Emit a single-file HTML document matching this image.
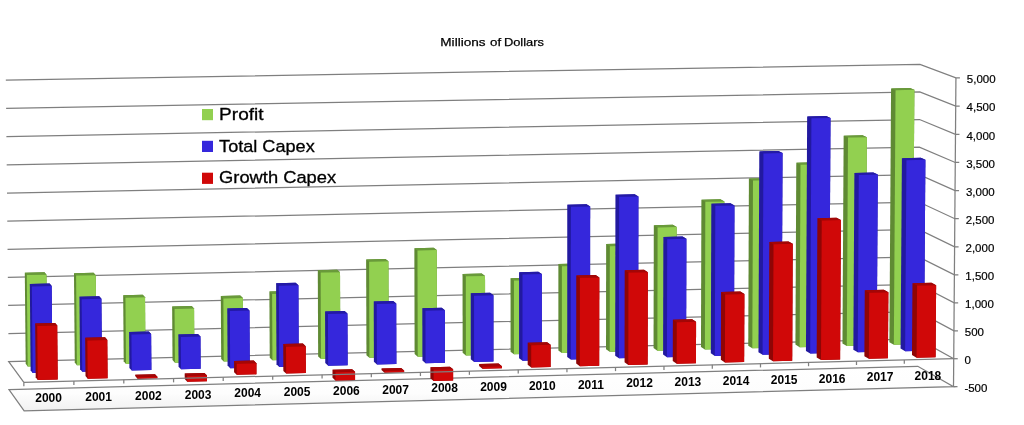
<!DOCTYPE html>
<html><head><meta charset="utf-8"><title>Millions of Dollars</title>
<style>
html,body{margin:0;padding:0;background:#fff;}
body{width:1024px;height:425px;overflow:hidden;font-family:"Liberation Sans",sans-serif;}
svg{display:block}
text{font-family:"Liberation Sans",sans-serif;fill:#000}
.ax{font-size:11.5px;stroke:#000;stroke-width:0.2px}
.yr{font-size:12px;font-weight:bold}
.ti{font-size:11.8px;stroke:#000;stroke-width:0.25px}
.lg{font-size:16.8px;stroke:#000;stroke-width:0.3px}
</style></head><body>
<svg width="1024" height="425" viewBox="0 0 1024 425">
<defs><linearGradient id="fl" x1="0" y1="0" x2="0" y2="1"><stop offset="0" stop-color="#ffffff"/><stop offset="0.6" stop-color="#fdfdfd"/><stop offset="1" stop-color="#f1f1f1"/></linearGradient></defs>
<rect width="1024" height="425" fill="#fff"/>
<polyline points="8.41,333.53 918.19,311.64 953.95,330.79 957.95,330.79" fill="none" stroke="#7f7f7f" stroke-width="1.25"/>
<polyline points="8.12,305.49 918.39,284.28 954.17,302.81 958.17,302.81" fill="none" stroke="#7f7f7f" stroke-width="1.25"/>
<polyline points="7.83,277.43 918.58,256.90 954.38,274.80 958.38,274.80" fill="none" stroke="#7f7f7f" stroke-width="1.25"/>
<polyline points="7.55,249.33 918.78,229.48 954.60,246.76 958.60,246.76" fill="none" stroke="#7f7f7f" stroke-width="1.25"/>
<polyline points="7.26,221.21 918.97,202.04 954.82,218.70 958.82,218.70" fill="none" stroke="#7f7f7f" stroke-width="1.25"/>
<polyline points="6.97,193.05 919.17,174.57 955.04,190.60 959.04,190.60" fill="none" stroke="#7f7f7f" stroke-width="1.25"/>
<polyline points="6.69,164.86 919.37,147.07 955.26,162.47 959.26,162.47" fill="none" stroke="#7f7f7f" stroke-width="1.25"/>
<polyline points="6.40,136.64 919.56,119.54 955.48,134.32 959.48,134.32" fill="none" stroke="#7f7f7f" stroke-width="1.25"/>
<polyline points="6.11,108.40 919.76,91.99 955.71,106.13 959.71,106.13" fill="none" stroke="#7f7f7f" stroke-width="1.25"/>
<polyline points="5.82,80.12 919.96,64.40 955.93,77.91 959.93,77.91" fill="none" stroke="#7f7f7f" stroke-width="1.25"/>
<polygon points="8.98,389.51 917.80,366.27 953.51,386.65 24.14,410.98" fill="url(#fl)" stroke="#7f7f7f" stroke-width="1.25"/>
<polyline points="23.85,382.35 8.69,361.54 918.00,338.97 953.73,358.73" fill="none" stroke="#7f7f7f" stroke-width="1.25"/>
<line x1="955.93" y1="77.91" x2="953.51" y2="386.65" stroke="#7f7f7f" stroke-width="1.25"/>
<line x1="953.73" y1="358.73" x2="957.73" y2="358.73" stroke="#7f7f7f" stroke-width="1.25"/>
<line x1="953.51" y1="386.65" x2="957.51" y2="386.65" stroke="#7f7f7f" stroke-width="1.25"/>
<g>
<polygon points="27.68,366.40 25.70,363.75 24.80,272.73 44.45,272.29 46.49,274.67 47.35,365.91" fill="#5f8a33"/><polygon points="26.78,275.11 24.80,272.73 44.45,272.29 46.49,274.67" fill="#699a3a"/><polygon points="27.68,366.40 47.35,365.91 46.49,274.67 26.78,275.11" fill="#92d050"/>
<polygon points="76.89,365.17 74.77,362.53 73.97,273.20 93.57,272.76 95.75,275.14 96.51,364.68" fill="#5f8a33"/><polygon points="76.09,275.58 73.97,273.20 93.57,272.76 95.75,275.14" fill="#699a3a"/><polygon points="76.89,365.17 96.51,364.68 95.75,275.14 76.09,275.58" fill="#92d050"/>
<polygon points="125.97,363.95 123.70,361.31 123.18,295.23 142.71,294.78 145.04,297.22 145.54,363.46" fill="#5f8a33"/><polygon points="125.44,297.67 123.18,295.23 142.71,294.78 145.04,297.22" fill="#699a3a"/><polygon points="125.97,363.95 145.54,363.46 145.04,297.22 125.44,297.67" fill="#92d050"/>
<polygon points="174.92,362.72 172.51,360.10 172.13,306.49 191.62,306.03 194.08,308.50 194.44,362.24" fill="#5f8a33"/><polygon points="174.54,308.96 172.13,306.49 191.62,306.03 194.08,308.50" fill="#699a3a"/><polygon points="174.92,362.72 194.44,362.24 194.08,308.50 174.54,308.96" fill="#92d050"/>
<polygon points="223.74,361.51 221.19,358.88 220.80,296.00 240.24,295.55 242.85,297.98 243.21,361.02" fill="#5f8a33"/><polygon points="223.35,298.44 220.80,296.00 240.24,295.55 242.85,297.98" fill="#699a3a"/><polygon points="223.74,361.51 243.21,361.02 242.85,297.98 223.35,298.44" fill="#92d050"/>
<polygon points="272.43,360.29 269.74,357.68 269.39,291.46 288.78,291.02 291.53,293.43 291.85,359.81" fill="#5f8a33"/><polygon points="272.09,293.88 269.39,291.46 288.78,291.02 291.53,293.43" fill="#699a3a"/><polygon points="272.43,360.29 291.85,359.81 291.53,293.43 272.09,293.88" fill="#92d050"/>
<polygon points="320.99,359.08 318.16,356.47 317.79,270.24 337.13,269.80 340.02,272.16 340.36,358.59" fill="#5f8a33"/><polygon points="320.62,272.59 317.79,270.24 337.13,269.80 340.02,272.16" fill="#699a3a"/><polygon points="320.99,359.08 340.36,358.59 340.02,272.16 320.62,272.59" fill="#92d050"/>
<polygon points="369.42,357.87 366.45,355.27 366.13,259.44 385.42,259.01 388.45,261.33 388.74,357.39" fill="#5f8a33"/><polygon points="369.10,261.76 366.13,259.44 385.42,259.01 388.45,261.33" fill="#699a3a"/><polygon points="369.42,357.87 388.74,357.39 388.45,261.33 369.10,261.76" fill="#92d050"/>
<polygon points="417.73,356.66 414.62,354.07 414.36,248.22 433.60,247.79 436.78,250.07 436.99,356.18" fill="#5f8a33"/><polygon points="417.47,250.50 414.36,248.22 433.60,247.79 436.78,250.07" fill="#699a3a"/><polygon points="417.73,356.66 436.99,356.18 436.78,250.07 417.47,250.50" fill="#92d050"/>
<polygon points="465.91,355.46 462.66,352.87 462.53,273.99 481.72,273.55 485.03,275.91 485.12,354.98" fill="#5f8a33"/><polygon points="465.79,276.34 462.53,273.99 481.72,273.55 485.03,275.91" fill="#699a3a"/><polygon points="465.91,355.46 485.12,354.98 485.03,275.91 465.79,276.34" fill="#92d050"/>
<polygon points="513.96,354.26 510.57,351.68 510.52,278.23 529.66,277.79 533.10,280.16 533.12,353.78" fill="#5f8a33"/><polygon points="513.91,280.60 510.52,278.23 529.66,277.79 533.10,280.16" fill="#699a3a"/><polygon points="513.96,354.26 533.12,353.78 533.10,280.16 513.91,280.60" fill="#92d050"/>
<polygon points="561.88,353.06 558.36,350.49 558.38,263.98 577.47,263.55 581.05,265.87 580.99,352.59" fill="#5f8a33"/><polygon points="561.91,266.30 558.38,263.98 577.47,263.55 581.05,265.87" fill="#699a3a"/><polygon points="561.88,353.06 580.99,352.59 581.05,265.87 561.91,266.30" fill="#92d050"/>
<polygon points="609.68,351.87 606.02,349.30 606.14,243.94 625.19,243.52 628.91,245.78 628.74,351.39" fill="#5f8a33"/><polygon points="609.81,246.20 606.14,243.94 625.19,243.52 628.91,245.78" fill="#699a3a"/><polygon points="609.68,351.87 628.74,351.39 628.91,245.78 609.81,246.20" fill="#92d050"/>
<polygon points="657.35,350.68 653.55,348.12 653.81,225.22 672.81,224.81 676.67,227.01 676.36,350.21" fill="#5f8a33"/><polygon points="657.62,227.42 653.81,225.22 672.81,224.81 676.67,227.01" fill="#699a3a"/><polygon points="657.35,350.68 676.36,350.21 676.67,227.01 657.62,227.42" fill="#92d050"/>
<polygon points="704.90,349.49 700.97,346.94 701.41,199.71 720.37,199.31 724.37,201.43 723.86,349.02" fill="#5f8a33"/><polygon points="705.35,201.83 701.41,199.71 720.37,199.31 724.37,201.43" fill="#699a3a"/><polygon points="704.90,349.49 723.86,349.02 724.37,201.43 705.35,201.83" fill="#92d050"/>
<polygon points="752.32,348.31 748.25,345.76 748.91,178.45 767.83,178.07 771.96,180.13 771.23,347.84" fill="#5f8a33"/><polygon points="752.99,180.51 748.91,178.45 767.83,178.07 771.96,180.13" fill="#699a3a"/><polygon points="752.32,348.31 771.23,347.84 771.96,180.13 752.99,180.51" fill="#92d050"/>
<polygon points="799.62,347.13 795.42,344.59 796.29,162.66 815.17,162.29 819.44,164.30 818.48,346.66" fill="#5f8a33"/><polygon points="800.51,164.67 796.29,162.66 815.17,162.29 819.44,164.30" fill="#699a3a"/><polygon points="799.62,347.13 818.48,346.66 819.44,164.30 800.51,164.67" fill="#92d050"/>
<polygon points="846.79,345.95 842.46,343.42 843.65,135.68 862.48,135.32 866.89,137.24 865.61,345.48" fill="#5f8a33"/><polygon points="848.00,137.61 843.65,135.68 862.48,135.32 866.89,137.24" fill="#699a3a"/><polygon points="846.79,345.95 865.61,345.48 866.89,137.24 848.00,137.61" fill="#92d050"/>
<polygon points="893.85,344.78 889.38,342.25 891.06,88.42 909.86,88.09 914.40,89.87 912.61,344.31" fill="#5f8a33"/><polygon points="895.55,90.21 891.06,88.42 909.86,88.09 914.40,89.87" fill="#699a3a"/><polygon points="893.85,344.78 912.61,344.31 914.40,89.87 895.55,90.21" fill="#92d050"/>
</g>
<g>
<polygon points="32.67,373.10 30.66,370.41 29.82,283.99 49.62,283.54 51.68,285.97 52.50,372.60" fill="#2219a0"/><polygon points="31.83,286.42 29.82,283.99 49.62,283.54 51.68,285.97" fill="#241aa6"/><polygon points="32.67,373.10 52.50,372.60 51.68,285.97 31.83,286.42" fill="#3527dc"/>
<polygon points="82.25,371.85 80.10,369.17 79.45,296.74 99.19,296.28 101.41,298.75 102.02,371.35" fill="#2219a0"/><polygon points="81.61,299.21 79.45,296.74 99.19,296.28 101.41,298.75" fill="#241aa6"/><polygon points="82.25,371.85 102.02,371.35 101.41,298.75 81.61,299.21" fill="#3527dc"/>
<polygon points="131.69,370.61 129.39,367.93 129.11,331.99 148.78,331.51 151.14,334.08 151.41,370.11" fill="#2219a0"/><polygon points="131.41,334.56 129.11,331.99 148.78,331.51 151.14,334.08" fill="#241aa6"/><polygon points="131.69,370.61 151.41,370.11 151.14,334.08 131.41,334.56" fill="#3527dc"/>
<polygon points="181.00,369.37 178.56,366.70 178.33,334.47 197.95,333.99 200.46,336.56 200.67,368.87" fill="#2219a0"/><polygon points="180.78,337.04 178.33,334.47 197.95,333.99 200.46,336.56" fill="#241aa6"/><polygon points="181.00,369.37 200.67,368.87 200.46,336.56 180.78,337.04" fill="#3527dc"/>
<polygon points="230.18,368.13 227.59,365.47 227.25,308.49 246.83,308.03 249.48,310.52 249.80,367.64" fill="#2219a0"/><polygon points="229.84,310.98 227.25,308.49 246.83,308.03 249.48,310.52" fill="#241aa6"/><polygon points="230.18,368.13 249.80,367.64 249.48,310.52 229.84,310.98" fill="#3527dc"/>
<polygon points="279.23,366.90 276.50,364.24 276.09,283.23 295.62,282.79 298.41,285.20 298.79,366.41" fill="#2219a0"/><polygon points="278.82,285.65 276.09,283.23 295.62,282.79 298.41,285.20" fill="#241aa6"/><polygon points="279.23,366.90 298.79,366.41 298.41,285.20 278.82,285.65" fill="#3527dc"/>
<polygon points="328.15,365.67 325.27,363.02 325.06,311.47 344.53,311.01 347.46,313.51 347.66,365.18" fill="#2219a0"/><polygon points="327.94,313.97 325.06,311.47 344.53,311.01 347.46,313.51" fill="#241aa6"/><polygon points="328.15,365.67 347.66,365.18 347.46,313.51 327.94,313.97" fill="#3527dc"/>
<polygon points="376.93,364.44 373.92,361.80 373.72,301.45 393.14,301.00 396.22,303.46 396.39,363.95" fill="#2219a0"/><polygon points="376.74,303.91 373.72,301.45 393.14,301.00 396.22,303.46" fill="#241aa6"/><polygon points="376.93,364.44 396.39,363.95 396.22,303.46 376.74,303.91" fill="#3527dc"/>
<polygon points="425.59,363.22 422.43,360.58 422.31,308.22 441.68,307.76 444.90,310.24 444.99,362.73" fill="#2219a0"/><polygon points="425.47,310.70 422.31,308.22 441.68,307.76 444.90,310.24" fill="#241aa6"/><polygon points="425.59,363.22 444.99,362.73 444.90,310.24 425.47,310.70" fill="#3527dc"/>
<polygon points="474.12,362.00 470.82,359.37 470.73,293.24 490.05,292.79 493.41,295.22 493.47,361.51" fill="#2219a0"/><polygon points="474.03,295.67 470.73,293.24 490.05,292.79 493.41,295.22" fill="#241aa6"/><polygon points="474.12,362.00 493.47,361.51 493.41,295.22 474.03,295.67" fill="#3527dc"/>
<polygon points="522.52,360.78 519.08,358.16 519.04,272.19 538.31,271.76 541.81,274.12 541.82,360.29" fill="#2219a0"/><polygon points="522.48,274.56 519.04,272.19 538.31,271.76 541.81,274.12" fill="#241aa6"/><polygon points="522.52,360.78 541.82,360.29 541.81,274.12 522.48,274.56" fill="#3527dc"/>
<polygon points="570.79,359.56 567.21,356.95 567.28,204.70 586.52,204.30 590.17,206.46 590.03,359.08" fill="#2219a0"/><polygon points="570.87,206.87 567.28,204.70 586.52,204.30 590.17,206.46" fill="#241aa6"/><polygon points="570.79,359.56 590.03,359.08 590.17,206.46 570.87,206.87" fill="#3527dc"/>
<polygon points="618.93,358.35 615.21,355.75 615.43,194.68 634.63,194.28 638.42,196.42 638.13,357.87" fill="#2219a0"/><polygon points="619.16,196.81 615.43,194.68 634.63,194.28 638.42,196.42" fill="#241aa6"/><polygon points="618.93,358.35 638.13,357.87 638.42,196.42 619.16,196.81" fill="#3527dc"/>
<polygon points="666.94,357.15 663.09,354.55 663.36,236.94 682.49,236.52 686.41,238.78 686.09,356.66" fill="#2219a0"/><polygon points="667.22,239.20 663.36,236.94 682.49,236.52 686.41,238.78" fill="#241aa6"/><polygon points="666.94,357.15 686.09,356.66 686.41,238.78 667.22,239.20" fill="#3527dc"/>
<polygon points="714.83,355.94 710.84,353.35 711.32,203.70 730.41,203.30 734.47,205.45 733.93,355.46" fill="#2219a0"/><polygon points="715.32,205.86 711.32,203.70 730.41,203.30 734.47,205.45" fill="#241aa6"/><polygon points="714.83,355.94 733.93,355.46 734.47,205.45 715.32,205.86" fill="#3527dc"/>
<polygon points="762.59,354.74 758.46,352.16 759.29,151.41 778.35,151.04 782.55,153.03 781.64,354.26" fill="#2219a0"/><polygon points="763.43,153.41 759.29,151.41 778.35,151.04 782.55,153.03" fill="#241aa6"/><polygon points="762.59,354.74 781.64,354.26 782.55,153.03 763.43,153.41" fill="#3527dc"/>
<polygon points="810.23,353.54 805.96,350.96 807.14,116.42 826.16,116.07 830.51,117.96 829.22,353.06" fill="#2219a0"/><polygon points="811.42,118.31 807.14,116.42 826.16,116.07 830.51,117.96" fill="#241aa6"/><polygon points="810.23,353.54 829.22,353.06 830.51,117.96 811.42,118.31" fill="#3527dc"/>
<polygon points="857.74,352.35 853.34,349.78 854.38,172.94 873.34,172.56 877.81,174.61 876.68,351.87" fill="#2219a0"/><polygon points="858.80,175.00 854.38,172.94 873.34,172.56 877.81,174.61" fill="#241aa6"/><polygon points="857.74,352.35 876.68,351.87 877.81,174.61 858.80,175.00" fill="#3527dc"/>
<polygon points="905.12,351.16 900.59,348.59 901.89,158.19 920.80,157.82 925.40,159.83 924.02,350.68" fill="#2219a0"/><polygon points="906.44,160.20 901.89,158.19 920.80,157.82 925.40,159.83" fill="#241aa6"/><polygon points="905.12,351.16 924.02,350.68 925.40,159.83 906.44,160.20" fill="#3527dc"/>
</g>
<g>
<polygon points="37.74,379.90 35.71,377.17 35.19,323.51 55.12,323.04 57.22,325.60 57.72,379.39" fill="#8f0505"/><polygon points="37.22,326.08 35.19,323.51 55.12,323.04 57.22,325.60" fill="#a30606"/><polygon points="37.74,379.90 57.72,379.39 57.22,325.60 37.22,326.08" fill="#d00808"/>
<polygon points="87.69,378.63 85.51,375.91 85.17,337.77 105.04,337.29 107.29,339.89 107.61,378.13" fill="#8f0505"/><polygon points="87.36,340.38 85.17,337.77 105.04,337.29 107.29,339.89" fill="#a30606"/><polygon points="87.69,378.63 107.61,378.13 107.29,339.89 87.36,340.38" fill="#d00808"/>
<polygon points="137.51,378.68 135.18,375.96 135.17,374.65 154.97,374.15 157.37,376.87 157.38,378.18" fill="#8f0505"/><polygon points="137.50,377.37 135.17,374.65 154.97,374.15 157.37,376.87" fill="#a30606"/><polygon points="137.51,378.68 157.38,378.18 157.37,376.87 137.50,377.37" fill="#d00808"/>
<polygon points="187.22,381.69 184.74,378.96 184.70,373.40 204.45,372.90 206.99,375.61 207.03,381.18" fill="#8f0505"/><polygon points="187.18,376.11 184.70,373.40 204.45,372.90 206.99,375.61" fill="#a30606"/><polygon points="187.22,381.69 207.03,381.18 206.99,375.61 187.18,376.11" fill="#d00808"/>
<polygon points="236.72,374.86 234.10,372.15 234.03,360.99 253.73,360.50 256.42,363.16 256.48,374.35" fill="#8f0505"/><polygon points="236.66,363.66 234.03,360.99 253.73,360.50 256.42,363.16" fill="#a30606"/><polygon points="236.72,374.86 256.48,374.35 256.42,363.16 236.66,363.66" fill="#d00808"/>
<polygon points="286.14,373.60 283.36,370.91 283.23,344.02 302.88,343.54 305.72,346.15 305.84,373.10" fill="#8f0505"/><polygon points="286.00,346.63 283.23,344.02 302.88,343.54 305.72,346.15" fill="#a30606"/><polygon points="286.14,373.60 305.84,373.10 305.72,346.15 286.00,346.63" fill="#d00808"/>
<polygon points="335.44,380.40 332.53,377.69 332.49,369.67 352.09,369.17 355.06,371.86 355.09,379.90" fill="#8f0505"/><polygon points="335.41,372.35 332.49,369.67 352.09,369.17 355.06,371.86" fill="#a30606"/><polygon points="335.44,380.40 355.09,379.90 355.06,371.86 335.41,372.35" fill="#d00808"/>
<polygon points="384.56,372.81 381.50,370.12 381.49,368.43 401.04,367.94 404.15,370.61 404.16,372.31" fill="#8f0505"/><polygon points="384.56,371.11 381.49,368.43 401.04,367.94 404.15,370.61" fill="#a30606"/><polygon points="384.56,372.81 404.16,372.31 404.15,370.61 384.56,371.11" fill="#d00808"/>
<polygon points="433.59,381.06 430.39,378.35 430.36,367.20 449.85,366.70 453.12,369.37 453.13,380.56" fill="#8f0505"/><polygon points="433.57,369.87 430.36,367.20 449.85,366.70 453.12,369.37" fill="#a30606"/><polygon points="433.59,381.06 453.13,380.56 453.12,369.37 433.57,369.87" fill="#d00808"/>
<polygon points="482.45,368.63 479.10,365.96 479.10,363.99 498.54,363.50 501.94,366.16 501.94,368.13" fill="#8f0505"/><polygon points="482.45,366.65 479.10,363.99 498.54,363.50 501.94,366.16" fill="#a30606"/><polygon points="482.45,368.63 501.94,368.13 501.94,366.16 482.45,366.65" fill="#d00808"/>
<polygon points="531.20,367.39 527.71,364.74 527.71,342.75 547.10,342.27 550.65,344.86 550.64,366.90" fill="#8f0505"/><polygon points="531.20,345.34 527.71,342.75 547.10,342.27 550.65,344.86" fill="#a30606"/><polygon points="531.20,367.39 550.64,366.90 550.65,344.86 531.20,345.34" fill="#d00808"/>
<polygon points="579.82,366.16 576.19,363.51 576.25,275.45 595.61,275.00 599.31,277.39 599.21,365.67" fill="#8f0505"/><polygon points="579.88,277.84 576.25,275.45 595.61,275.00 599.31,277.39" fill="#a30606"/><polygon points="579.82,366.16 599.21,365.67 599.31,277.39 579.88,277.84" fill="#d00808"/>
<polygon points="628.31,364.93 624.54,362.29 624.69,270.23 644.00,269.80 647.83,272.16 647.65,364.44" fill="#8f0505"/><polygon points="628.46,272.61 624.69,270.23 644.00,269.80 647.83,272.16" fill="#a30606"/><polygon points="628.31,364.93 647.65,364.44 647.83,272.16 628.46,272.61" fill="#d00808"/>
<polygon points="676.68,363.71 672.77,361.07 672.87,319.72 692.11,319.25 696.08,321.76 695.96,363.22" fill="#8f0505"/><polygon points="676.78,322.23 672.87,319.72 692.11,319.25 696.08,321.76" fill="#a30606"/><polygon points="676.68,363.71 695.96,363.22 696.08,321.76 676.78,322.23" fill="#d00808"/>
<polygon points="724.91,362.49 720.86,359.86 721.09,291.99 740.29,291.54 744.40,293.97 744.14,362.00" fill="#8f0505"/><polygon points="725.14,294.42 721.09,291.99 740.29,291.54 744.40,293.97" fill="#a30606"/><polygon points="724.91,362.49 744.14,362.00 744.40,293.97 725.14,294.42" fill="#d00808"/>
<polygon points="773.01,361.27 768.83,358.64 769.33,241.94 788.50,241.52 792.75,243.79 792.20,360.78" fill="#8f0505"/><polygon points="773.53,244.22 769.33,241.94 788.50,241.52 792.75,243.79" fill="#a30606"/><polygon points="773.01,361.27 792.20,360.78 792.75,243.79 773.53,244.22" fill="#d00808"/>
<polygon points="820.99,360.05 816.67,357.44 817.39,218.19 836.52,217.78 840.91,219.98 840.12,359.57" fill="#8f0505"/><polygon points="821.73,220.39 817.39,218.19 836.52,217.78 840.91,219.98" fill="#a30606"/><polygon points="820.99,360.05 840.12,359.57 840.91,219.98 821.73,220.39" fill="#d00808"/>
<polygon points="868.84,358.84 864.38,356.23 864.78,290.25 883.84,289.80 888.36,292.22 887.92,358.35" fill="#8f0505"/><polygon points="869.25,292.66 864.78,290.25 883.84,289.80 888.36,292.22" fill="#a30606"/><polygon points="868.84,358.84 887.92,358.35 888.36,292.22 869.25,292.66" fill="#d00808"/>
<polygon points="916.56,357.63 911.97,355.03 912.47,283.22 931.48,282.78 936.13,285.17 935.59,357.15" fill="#8f0505"/><polygon points="917.08,285.61 912.47,283.22 931.48,282.78 936.13,285.17" fill="#a30606"/><polygon points="916.56,357.63 935.59,357.15 936.13,285.17 917.08,285.61" fill="#d00808"/>
</g>
<line x1="23.85" y1="382.35" x2="953.73" y2="358.73" stroke="#7f7f7f" stroke-width="1.25"/>
<line x1="23.85" y1="382.35" x2="23.85" y2="386.15" stroke="#7f7f7f" stroke-width="1.25"/>
<line x1="73.89" y1="381.08" x2="73.89" y2="384.88" stroke="#7f7f7f" stroke-width="1.25"/>
<line x1="123.80" y1="379.81" x2="123.80" y2="383.61" stroke="#7f7f7f" stroke-width="1.25"/>
<line x1="173.57" y1="378.55" x2="173.57" y2="382.35" stroke="#7f7f7f" stroke-width="1.25"/>
<line x1="223.21" y1="377.29" x2="223.21" y2="381.09" stroke="#7f7f7f" stroke-width="1.25"/>
<line x1="272.71" y1="376.03" x2="272.71" y2="379.83" stroke="#7f7f7f" stroke-width="1.25"/>
<line x1="322.08" y1="374.78" x2="322.08" y2="378.58" stroke="#7f7f7f" stroke-width="1.25"/>
<line x1="371.32" y1="373.53" x2="371.32" y2="377.33" stroke="#7f7f7f" stroke-width="1.25"/>
<line x1="420.42" y1="372.28" x2="420.42" y2="376.08" stroke="#7f7f7f" stroke-width="1.25"/>
<line x1="469.39" y1="371.03" x2="469.39" y2="374.83" stroke="#7f7f7f" stroke-width="1.25"/>
<line x1="518.23" y1="369.79" x2="518.23" y2="373.59" stroke="#7f7f7f" stroke-width="1.25"/>
<line x1="566.94" y1="368.56" x2="566.94" y2="372.36" stroke="#7f7f7f" stroke-width="1.25"/>
<line x1="615.52" y1="367.32" x2="615.52" y2="371.12" stroke="#7f7f7f" stroke-width="1.25"/>
<line x1="663.97" y1="366.09" x2="663.97" y2="369.89" stroke="#7f7f7f" stroke-width="1.25"/>
<line x1="712.30" y1="364.87" x2="712.30" y2="368.67" stroke="#7f7f7f" stroke-width="1.25"/>
<line x1="760.49" y1="363.64" x2="760.49" y2="367.44" stroke="#7f7f7f" stroke-width="1.25"/>
<line x1="808.55" y1="362.42" x2="808.55" y2="366.22" stroke="#7f7f7f" stroke-width="1.25"/>
<line x1="856.49" y1="361.20" x2="856.49" y2="365.00" stroke="#7f7f7f" stroke-width="1.25"/>
<line x1="904.30" y1="359.99" x2="904.30" y2="363.79" stroke="#7f7f7f" stroke-width="1.25"/>
<text x="966.8" y="83.2" class="ax">5,000</text>
<text x="966.6" y="111.4" class="ax">4,500</text>
<text x="966.4" y="139.6" class="ax">4,000</text>
<text x="966.2" y="167.8" class="ax">3,500</text>
<text x="965.9" y="195.9" class="ax">3,000</text>
<text x="965.7" y="224.0" class="ax">2,500</text>
<text x="965.5" y="252.1" class="ax">2,000</text>
<text x="965.3" y="280.1" class="ax">1,500</text>
<text x="965.1" y="308.1" class="ax">1,000</text>
<text x="964.8" y="336.1" class="ax">500</text>
<text x="964.6" y="364.0" class="ax">0</text>
<text x="964.4" y="392.0" class="ax">-500</text>
<text x="48.6" y="402.4" class="yr" text-anchor="middle">2000</text>
<text x="98.6" y="401.1" class="yr" text-anchor="middle">2001</text>
<text x="148.4" y="399.9" class="yr" text-anchor="middle">2002</text>
<text x="198.1" y="398.6" class="yr" text-anchor="middle">2003</text>
<text x="247.7" y="397.4" class="yr" text-anchor="middle">2004</text>
<text x="297.1" y="396.1" class="yr" text-anchor="middle">2005</text>
<text x="346.4" y="394.8" class="yr" text-anchor="middle">2006</text>
<text x="395.6" y="393.6" class="yr" text-anchor="middle">2007</text>
<text x="444.6" y="392.4" class="yr" text-anchor="middle">2008</text>
<text x="493.5" y="391.1" class="yr" text-anchor="middle">2009</text>
<text x="542.3" y="389.9" class="yr" text-anchor="middle">2010</text>
<text x="590.9" y="388.6" class="yr" text-anchor="middle">2011</text>
<text x="639.5" y="387.4" class="yr" text-anchor="middle">2012</text>
<text x="687.9" y="386.2" class="yr" text-anchor="middle">2013</text>
<text x="736.1" y="385.0" class="yr" text-anchor="middle">2014</text>
<text x="784.2" y="383.7" class="yr" text-anchor="middle">2015</text>
<text x="832.2" y="382.5" class="yr" text-anchor="middle">2016</text>
<text x="880.1" y="381.3" class="yr" text-anchor="middle">2017</text>
<text x="927.9" y="380.1" class="yr" text-anchor="middle">2018</text>
<text x="440.3" y="46.4" class="ti" textLength="45.3" lengthAdjust="spacingAndGlyphs">Millions</text>
<text x="490.1" y="46.4" class="ti" textLength="11.1" lengthAdjust="spacingAndGlyphs">of</text>
<text x="503.9" y="46.4" class="ti" textLength="40.1" lengthAdjust="spacingAndGlyphs">Dollars</text>
<rect x="202" y="109.0" width="11" height="11.2" fill="#92d050"/>
<text x="219.1" y="119.7" class="lg" textLength="44.5" lengthAdjust="spacingAndGlyphs">Profit</text>
<rect x="202" y="140.8" width="11" height="11.2" fill="#3527dc"/>
<text x="219.1" y="151.5" class="lg" textLength="95.6" lengthAdjust="spacingAndGlyphs">Total Capex</text>
<rect x="202" y="172.7" width="11" height="11.2" fill="#d00808"/>
<text x="219.1" y="183.4" class="lg" textLength="117.0" lengthAdjust="spacingAndGlyphs">Growth Capex</text>
</svg>
</body></html>
